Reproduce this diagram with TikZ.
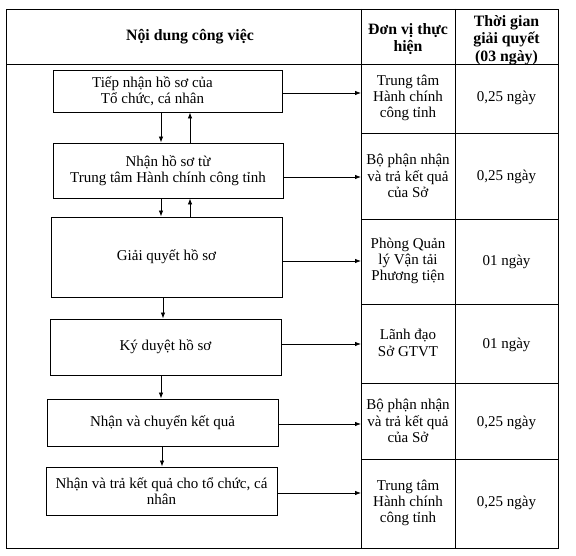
\documentclass[tikz,border=0pt]{standalone}
\usepackage{fontspec}
\setmainfont{Liberation Serif}
\usetikzlibrary{arrows.meta}
\begin{document}
\begin{tikzpicture}[x=1pt,y=-1pt,
  tbl/.style={line width=0.8pt},
  box/.style={draw, line width=0.9pt, inner sep=0pt},
  txt/.style={align=center, font=\fontsize{15}{16.5}\selectfont},
  cell/.style={align=center, font=\fontsize{15}{16.2}\selectfont},
  head/.style={align=center, font=\bfseries\fontsize{15.8}{17.5}\selectfont},
  arr/.style={-{Latex[length=6pt,width=4.5pt]}, line width=0.8pt}]
\useasboundingbox (0,0) rectangle (576,556);
% table frame
\draw[tbl] (6,9) rectangle (558,548);
\draw[tbl] (361,9) -- (361,548);
\draw[tbl] (455,9) -- (455,548);
\draw[tbl] (6,64) -- (558,64);
\foreach \y in {133,219,304,383,459} \draw[tbl] (361,\y) -- (558,\y);
\coordinate (cl) at (361,0);
% headers
\node[head] (h1) at (190,37) {Nội dung công việc};
\node[head] (h2) at (408,39) {Đơn vị thực\\hiện};
\node[head] (h3) at (506.5,40) {Thời gian\\giải quyết\\(03 ngày)};
% right column cells
\node[cell] (u1) at (408,98) {Trung tâm\\Hành chính\\công tỉnh};
\node[cell] (d1) at (506.5,98) {0,25 ngày};
\node[cell] (u2) at (408,176) {Bộ phận nhận\\và trả kết quả\\của Sở};
\node[cell] (d2) at (506.5,177) {0,25 ngày};
\node[cell] (u3) at (408,261) {Phòng Quản\\lý Vận tải\\Phương tiện};
\node[cell] (d3) at (506.5,262) {01 ngày};
\node[cell] (u4) at (408,343) {Lãnh đạo\\Sở GTVT};
\node[cell] (d4) at (506.5,345) {01 ngày};
\node[cell] (u5) at (408,421) {Bộ phận nhận\\và trả kết quả\\của Sở};
\node[cell] (d5) at (506.5,423) {0,25 ngày};
\node[cell] (u6) at (408,503) {Trung tâm\\Hành chính\\công tỉnh};
\node[cell] (d6) at (506.5,503) {0,25 ngày};
% process boxes
\node[box, minimum width=229pt, minimum height=42pt] (b1) at (167.5,91) {};
\node[txt] (t1) at (152.5,91) {Tiếp nhận hồ sơ của\\Tổ chức, cá nhân};
\node[box, txt, minimum width=230pt, minimum height=55pt] (b2) at (168,170.5) {Nhận hồ sơ từ\\Trung tâm Hành chính công tỉnh};
\node[box, txt, minimum width=231pt, minimum height=80pt] (b3) at (166.5,257) {Giải quyết hồ sơ};
\node[box, txt, minimum width=231pt, minimum height=56pt] (b4) at (165.5,347) {Ký duyệt hồ sơ};
\node[box, txt, minimum width=231pt, minimum height=47pt] (b5) at (162.5,422.5) {Nhận và chuyển kết quả};
\node[box, txt, minimum width=231pt, minimum height=48pt] (b6) at (161.5,491) {Nhận và trả kết quả cho tổ chức, cá\\nhân};
% vertical arrows
\coordinate (xa) at (161,0);
\coordinate (xb) at (190,0);
\coordinate (xc) at (163,0);
\coordinate (xd) at (162,0);
\draw[arr] (b1.south -| xa) -- (b2.north -| xa);
\draw[arr] (b2.north -| xb) -- (b1.south -| xb);
\draw[arr] (b2.south -| xa) -- (b3.north -| xa);
\draw[arr] (b3.north -| xb) -- (b2.south -| xb);
\draw[arr] (b3.south -| xc) -- (b4.north -| xc);
\draw[arr] (b4.south -| xa) -- (b5.north -| xa);
\draw[arr] (b5.south -| xd) -- (b6.north -| xd);
% horizontal arrows
\coordinate (e1) at ([yshift=-2pt]b1.east);
\coordinate (e2) at ([yshift=-6.5pt]b2.east);
\coordinate (e3) at ([yshift=-4pt]b3.east);
\coordinate (e4) at ([yshift=3pt]b4.east);
\coordinate (e5) at ([yshift=-1.5pt]b5.east);
\coordinate (e6) at ([yshift=-2pt]b6.east);
\foreach \e in {e1,e2,e3,e4,e5,e6} \draw[arr] (\e) -- (\e -| cl);
\end{tikzpicture}
\end{document}
